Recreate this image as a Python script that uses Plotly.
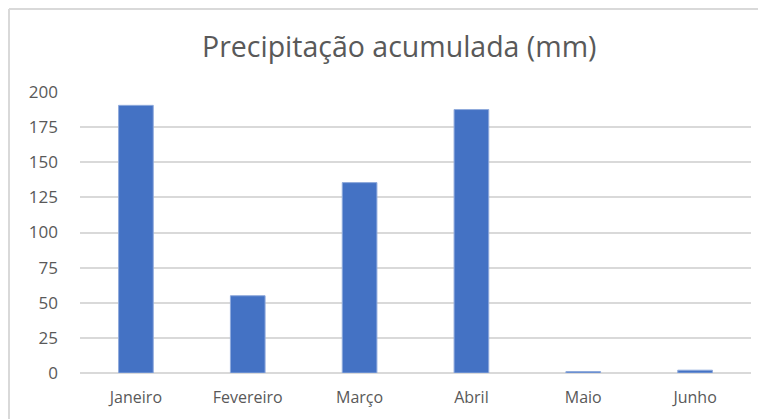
import plotly.graph_objects as go

meses = ["Janeiro", "Fevereiro", "Março", "Abril", "Maio", "Junho"]
precipitacao = [190.5, 55, 135.5, 187.5, 1, 2]
y_ticks = [0, 25, 50, 75, 100, 125, 150, 175, 200]

# page is offset by 8px body margin; work in figure coordinates
OFF = 8
W, H = 758, 411
L = 80 - OFF
T = 92 - OFF
R = W - (751 - OFF)
B = H - (373 - OFF)
pw, ph = W - L - R, H - T - B

def px_x(p):
    return (p - OFF - L) / pw

def px_y(p):
    return (H - B - (p - OFF)) / ph

fig = go.Figure(go.Bar(
    x=meses, y=precipitacao,
    marker=dict(color="#4472C4", line=dict(color="#8FAADC", width=1)),
    width=0.31,
))

border = dict(color="#D9D9D9", width=2)
fig.update_layout(
    width=W, height=H,
    margin=dict(l=L, r=R, t=T, b=B),
    paper_bgcolor="white", plot_bgcolor="white",
    font=dict(family="Open Sans", color="#595959", size=16),
    showlegend=False,
    xaxis=dict(showgrid=False, showline=False, ticks="", ticklabelstandoff=13, automargin=False,
               tickfont=dict(size=16, color="#595959")),
    yaxis=dict(range=[0, 200], tickvals=y_ticks, showgrid=True, automargin=False,
               gridcolor="#D9D9D9", gridwidth=1.5, zeroline=True,
               zerolinecolor="#D9D9D9", zerolinewidth=1.5, showline=False,
               ticks="", ticklabelstandoff=21, tickfont=dict(size=17, color="#595959")),
    annotations=[dict(text="Precipitação acumulada (mm)", x=px_x(399), y=px_y(46),
                      xref="paper", yref="paper", showarrow=False,
                      xanchor="center", yanchor="middle",
                      font=dict(size=28.5, color="#595959", family="Open Sans"))],
    shapes=[
        dict(type="line", xref="paper", yref="paper",
             x0=px_x(9), x1=px_x(790), y0=px_y(9), y1=px_y(9), line=border, layer="below"),
        dict(type="line", xref="paper", yref="paper",
             x0=px_x(9), x1=px_x(9), y0=px_y(9), y1=px_y(440), line=border, layer="below"),
    ],
)

fig.write_html("out.html")
